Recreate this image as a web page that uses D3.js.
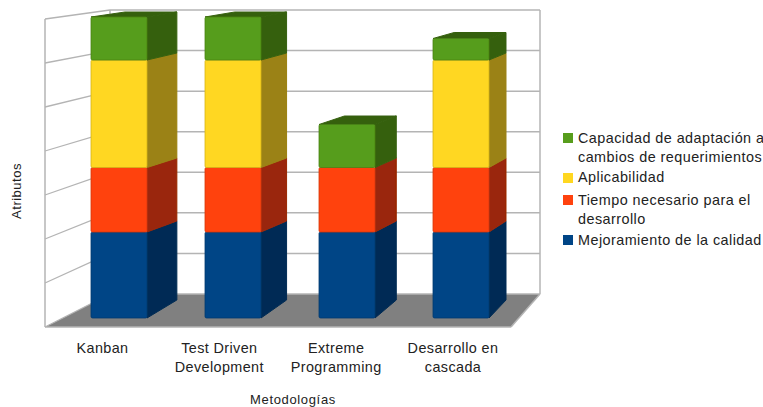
<!DOCTYPE html>
<html><head><meta charset="utf-8">
<script src="https://cdn.jsdelivr.net/npm/d3@7"></script>
<style>html,body{margin:0;background:#fff}svg{display:block}text{font-family:"Liberation Sans",Arial,sans-serif;fill:#222}</style>
</head><body><svg id="c" width="763" height="407"></svg>
<script>
const categories = [["Kanban"],["Test Driven","Development"],["Extreme","Programming"],["Desarrollo en","cascada"]];
const seriesNames = ["Mejoramiento de la calidad","Tiempo necesario para el desarrollo","Aplicabilidad","Capacidad de adaptación a cambios de requerimientos"];
const mejoramiento = [2,2,2,2];
const tiempo = [1.5,1.5,1.5,1.5];
const aplicabilidad = [2.5,2.5,0,2.5];
const capacidad = [1,1,1,0.5];
const series = [mejoramiento,tiempo,aplicabilidad,capacidad];
const frontColors = ["#004586","#ff420e","#ffd720","#579d1c"];
const sideColors = ["#002b54","#9a2807","#9b8213","#36610f"];
const legendLines = [["Capacidad de adaptación a","cambios de requerimientos"],["Aplicabilidad"],["Tiempo necesario para el","desarrollo"],["Mejoramiento de la calidad"]];
const legendOrder = [3,2,1,0];

const svg = d3.select("#c");
const idx = d3.range(categories.length);
const yMax = 7, ticks = d3.range(0,yMax+1);

// wall and bar projections
const yWallFront = d3.scaleLinear([0,yMax],[327,19]);
const yWallBack  = d3.scaleLinear([0,yMax],[294,10]);
const yBarFront  = d3.scaleLinear([0,yMax],[318,17]);
const yBarBack   = d3.scaleLinear([0,2,3.5,6,7],[300,221,158,53,12]);
const xFront = d3.scaleBand(idx,[91,489]).paddingInner(58/114).paddingOuter(0);
const xBack  = d3.scaleBand(idx,[125,506]).paddingInner(58/110).paddingOuter(0);
const xLabel = d3.scalePoint(idx,[102.5,453]);

const wallL=45, wallB=110, wallR=540, floorR=511;
const grid="#b4b4b4";
const defs=svg.append("defs");
defs.append("filter").attr("id","soft").attr("x","-5%").attr("y","-5%").attr("width","110%").attr("height","110%")
  .append("feGaussianBlur").attr("stdDeviation",0.45);

// floor
const g0=svg.append("g").attr("filter","url(#soft)");
g0.append("polygon").attr("fill","#808080")
  .attr("points",[[wallL,yWallFront(0)],[floorR,yWallFront(0)],[wallR,yWallBack(0)],[wallB,yWallBack(0)]].join(" "));
// grid
ticks.forEach(t=>{
  g0.append("line").attr("x1",wallB).attr("x2",wallR).attr("y1",yWallBack(t)).attr("y2",yWallBack(t))
    .attr("stroke",grid).attr("stroke-width",1.5);
  g0.append("line").attr("x1",wallL).attr("x2",wallB).attr("y1",yWallFront(t)).attr("y2",yWallBack(t))
    .attr("stroke",grid).attr("stroke-width",1.3);
});
[[wallL,yWallFront(0),wallL,yWallFront(yMax)],[wallB,yWallBack(0),wallB,yWallBack(yMax)],[wallR,yWallBack(0),wallR,yWallBack(yMax)],
 [wallL,yWallFront(0),floorR,yWallFront(0)],[floorR,yWallFront(0),wallR,yWallBack(0)]].forEach(l=>{
  g0.append("line").attr("x1",l[0]).attr("y1",l[1]).attr("x2",l[2]).attr("y2",l[3]).attr("stroke",grid).attr("stroke-width",1.5);
});

// bars
const stacks = d3.stack().keys(d3.range(series.length)).value((i,k)=>series[k][i])(idx);
const bars=svg.append("g").attr("filter","url(#soft)");
idx.forEach(i=>{
  const fl=xFront(i), fr=fl+xFront.bandwidth(), bl=xBack(i), br=bl+xBack.bandwidth();
  let topS=-1;
  stacks.forEach((s,k)=>{ if(s[i][1]>s[i][0]) topS=k; });
  stacks.forEach((s,k)=>{
    const [v0,v1]=s[i];
    if(v1<=v0) return;
    bars.append("polygon").attr("fill",sideColors[k]).attr("stroke",sideColors[k]).attr("stroke-width",1).attr("stroke-linejoin","round")
      .attr("points",[[fr,yBarFront(v0)],[fr,yBarFront(v1)],[br,yBarBack(v1)],[br,yBarBack(v0)]].join(" "));
    if(k===topS){
      bars.append("polygon").attr("fill",sideColors[k]).attr("stroke",sideColors[k]).attr("stroke-width",1).attr("stroke-linejoin","round")
        .attr("points",[[fl,yBarFront(v1)],[bl,yBarBack(v1)],[br,yBarBack(v1)],[fr,yBarFront(v1)]].join(" "));
    }
  });
  stacks.forEach((s,k)=>{
    const [v0,v1]=s[i];
    if(v1<=v0) return;
    bars.append("rect").attr("x",fl).attr("y",yBarFront(v1)).attr("width",fr-fl).attr("height",yBarFront(v0)-yBarFront(v1))
      .attr("rx",1.5).attr("fill",frontColors[k]).attr("stroke",d3.color(frontColors[k]).darker(0.5)).attr("stroke-width",0.8);
  });
});

// category labels
const catG=svg.append("g").attr("font-size",14.4).attr("letter-spacing",0.4);
categories.forEach((lines,i)=>{
  const t=catG.append("text").attr("text-anchor","middle").attr("x",xLabel(i)).attr("y",353);
  lines.forEach((l,j)=>t.append("tspan").attr("x",xLabel(i)).attr("y",353+j*18.5).text(l));
});
// axis titles
svg.append("text").attr("text-anchor","middle").attr("font-size",13).attr("letter-spacing",0.65).attr("x",293).attr("y",404).text("Metodologías");
svg.append("text").attr("text-anchor","middle").attr("font-size",13).attr("letter-spacing",0.5).attr("transform","translate(21,191) rotate(-90)").text("Atributos");

// legend
const legendTop=[133,173,195,235], legendBase=[143,182,205,245];
legendOrder.forEach((k,r)=>{
  svg.append("rect").attr("x",563).attr("y",legendTop[r]).attr("width",10).attr("height",10).attr("fill",frontColors[k]);
  const t=svg.append("text").attr("font-size",14.4).attr("letter-spacing",0.45);
  legendLines[r].forEach((l,j)=>t.append("tspan").attr("x",578).attr("y",legendBase[r]+j*18.5).text(l));
});
</script></body></html>
